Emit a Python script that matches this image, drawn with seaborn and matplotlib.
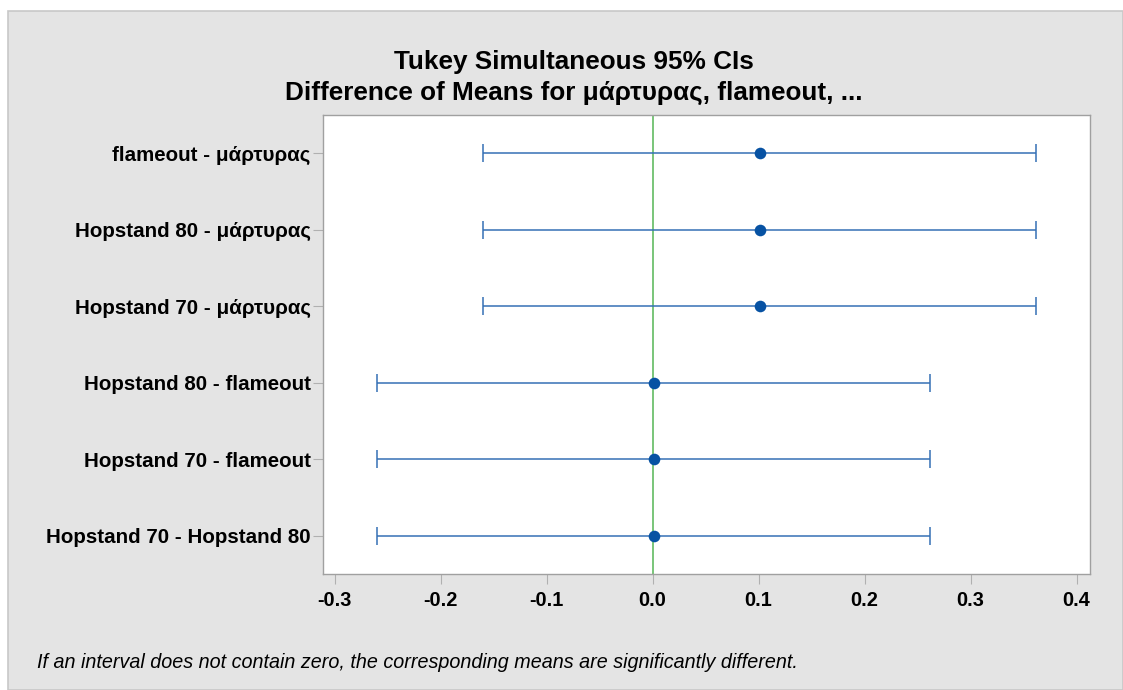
import matplotlib
matplotlib.use("Agg")
import matplotlib.pyplot as plt
import seaborn as sns
import pandas as pd
import numpy as np
from matplotlib.patches import Rectangle

comparisons = ["flameout - μάρτυρας", "Hopstand 80 - μάρτυρας", "Hopstand 70 - μάρτυρας",
               "Hopstand 80 - flameout", "Hopstand 70 - flameout", "Hopstand 70 - Hopstand 80"]
means = [0.101, 0.101, 0.101, 0.001, 0.001, 0.001]
lower = [-0.160, -0.160, -0.160, -0.260, -0.260, -0.260]
upper = [0.362, 0.362, 0.362, 0.262, 0.262, 0.262]
xticks = [-0.3, -0.2, -0.1, 0.0, 0.1, 0.2, 0.3, 0.4]

df = pd.DataFrame({"comparison": comparisons, "mean": means, "lower": lower, "upper": upper})
df["pos"] = np.arange(len(df))

sns.set_theme(style="white")
plt.rcParams['font.family'] = ['Liberation Sans', 'DejaVu Sans']
plt.rcParams['text.color'] = 'black'
plt.rcParams['xtick.color'] = 'black'
plt.rcParams['ytick.color'] = 'black'

fig = plt.figure(figsize=(11.23, 6.90), dpi=100)
fig.patch.set_facecolor("white")
bg = Rectangle((8/1123, 0), 1 - 8/1123, 1 - 11/690, transform=fig.transFigure,
               facecolor="#e4e4e4", edgecolor="#c8c8c8", linewidth=1.2, zorder=-10)
fig.patches.append(bg)

ax = fig.add_axes([323/1123, 1 - 574/690, (1090 - 323)/1123, (574 - 115)/690])
ax.set_facecolor("white")

blue_line = "#3570b5"
ax.axvline(0, color="#62bb62", linewidth=1.2, zorder=1)
ax.errorbar(df["mean"], df["pos"],
            xerr=[df["mean"] - df["lower"], df["upper"] - df["mean"]],
            fmt="none", ecolor=blue_line, elinewidth=1.1, capsize=6.5, capthick=1.1, zorder=2)
sns.scatterplot(data=df, x="mean", y="pos", ax=ax, color="#0752a3", s=70,
                edgecolor="#0752a3", linewidth=0, zorder=3, legend=False)

ax.set_xlim(-0.311, 0.4127)
ax.set_ylim(5.5, -0.5)
ax.set_yticks(df["pos"])
ax.set_yticklabels(comparisons, fontsize=14.8, fontweight="bold")
ax.set_xticks(xticks)
ax.set_xticklabels([f"{t:.1f}" for t in xticks], fontsize=14.3, fontweight="bold")
ax.set_xlabel("")
ax.set_ylabel("")
ax.tick_params(axis="both", which="both", length=7, width=0.8, color="#b0b0b0",
               labelcolor="black", direction="out", left=True, bottom=True)
ax.tick_params(axis="y", pad=2)
ax.tick_params(axis="x", pad=5)
for s in ax.spines.values():
    s.set_color("#a0a0a0")
    s.set_linewidth(1.0)

fig.text(574/1123, 1 - 62/690, "Tukey Simultaneous 95% CIs", ha="center", va="center",
         fontsize=18.8, fontweight="bold", color="black")
fig.text(574/1123, 1 - 93/690, "Difference of Means for μάρτυρας, flameout, ...", ha="center",
         va="center", fontsize=18.8, fontweight="bold", color="black")
fig.text(37/1123, 1 - 663/690,
         "If an interval does not contain zero, the corresponding means are significantly different.",
         ha="left", va="center", fontsize=14.2, fontstyle="italic", color="black")

fig.savefig("out.png", dpi=100)
